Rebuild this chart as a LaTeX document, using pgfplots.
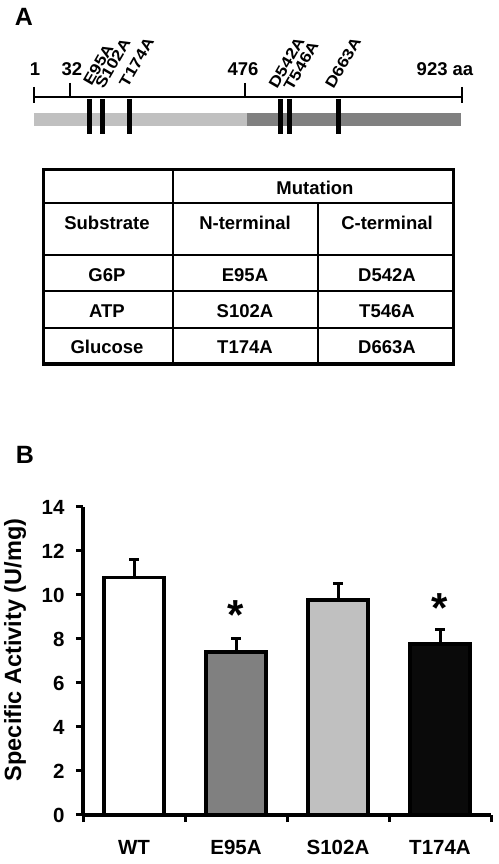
\documentclass[border=0pt]{standalone}
\usepackage{fontspec}
\setmainfont{Liberation Sans}
\usepackage{pgfplots}
\pgfplotsset{compat=1.18}
\definecolor{lgray}{HTML}{C0C0C0}
\definecolor{dgray}{HTML}{808080}
\definecolor{nblack}{HTML}{0A0A0A}
\tikzset{mut/.style={anchor=base west, rotate=60, yscale=0.85, inner sep=0pt,
    font=\fontsize{18}{20}\selectfont\bfseries}}
\begin{document}
\begin{tikzpicture}[font=\fontsize{18.5}{20}\selectfont\bfseries]
\path[use as bounding box] (0,0) rectangle (498pt,864pt);
% ---------- Panel A (pixel-coordinate overlay axis) ----------
\begin{axis}[at={(0pt,0pt)}, anchor=south west, scale only axis,
  width=498pt, height=864pt, xmin=0, xmax=498, ymin=0, ymax=864,
  y dir=reverse, hide axis, clip=false]
% domain bars
\addplot[lgray, line width=13pt, line cap=butt] coordinates {(34,119.5) (247,119.5)};
\addplot[dgray, line width=13pt, line cap=butt] coordinates {(247,119.5) (461,119.5)};
% ruler
\addplot[black, line width=2pt] coordinates {(34,97) (462,97)};
\addplot[black, line width=2pt, unbounded coords=jump] coordinates {
  (34,87) (34,103) (nan,nan) (462,87) (462,103) (nan,nan)
  (70,83) (70,97) (nan,nan) (245,83) (245,97)};
% mutation marks
\addplot[black, line width=5pt, unbounded coords=jump] coordinates {
  (89,99)(89,134)(nan,nan)(102,99)(102,134)(nan,nan)(129,99)(129,134)(nan,nan)
  (280,99)(280,134)(nan,nan)(289,99)(289,134)(nan,nan)(338,99)(338,134)};
\node[font=\fontsize{25}{27}\selectfont\bfseries] at (axis cs:24,17) {A};
\node[anchor=base] at (axis cs:35,76) {1};
\node[anchor=base] at (axis cs:72,76) {32};
\node[anchor=base] at (axis cs:243,76) {476};
\node[anchor=base] at (axis cs:445,76) {923 aa};
\node[mut] at (axis cs:91.5,87) {E95A};
\node[mut] at (axis cs:103.5,90) {S102A};
\node[mut] at (axis cs:127.5,88.5) {T174A};
\node[mut] at (axis cs:277,89.5) {D542A};
\node[mut] at (axis cs:292,92) {T546A};
\node[mut] at (axis cs:333.5,90) {D663A};
% table
\draw[line width=2.2pt] (axis cs:43.7,203) -- (axis cs:453.7,203);
\draw[line width=2.2pt] (axis cs:43.7,255) -- (axis cs:453.7,255);
\draw[line width=2.2pt] (axis cs:43.7,291) -- (axis cs:453.7,291);
\draw[line width=2.2pt] (axis cs:43.7,327.7) -- (axis cs:453.7,327.7);
\draw[line width=2.2pt] (axis cs:173.3,169.5) -- (axis cs:173.3,364);
\draw[line width=2.2pt] (axis cs:318.3,203) -- (axis cs:318.3,364);
\draw[line width=3.5pt] (axis cs:43.7,169.5) rectangle (axis cs:453.7,364);
\node[anchor=base] at (axis cs:315,194.4) {Mutation};
\node[anchor=base] at (axis cs:107,229.7) {Substrate};
\node[anchor=base] at (axis cs:245,229.7) {N-terminal};
\node[anchor=base] at (axis cs:387,229.7) {C-terminal};
\node[anchor=base] at (axis cs:107,281.4) {G6P};
\node[anchor=base] at (axis cs:245,281.4) {E95A};
\node[anchor=base] at (axis cs:387,281.4) {D542A};
\node[anchor=base] at (axis cs:107,317.4) {ATP};
\node[anchor=base] at (axis cs:245,317.4) {S102A};
\node[anchor=base] at (axis cs:387,317.4) {T546A};
\node[anchor=base] at (axis cs:107,353.4) {Glucose};
\node[anchor=base] at (axis cs:245,353.4) {T174A};
\node[anchor=base] at (axis cs:387,353.4) {D663A};
\node[font=\fontsize{25}{27}\selectfont\bfseries] at (axis cs:25,455) {B};
\end{axis}
% ---------- Panel B bar chart ----------
\begin{axis}[at={(83pt,49pt)}, anchor=south west, scale only axis,
  width=408pt, height=308pt,
  xmin=-0.5, xmax=3.5, ymin=0, ymax=14,
  axis x line*=bottom, axis y line*=left,
  axis line style={line width=3.5pt, black},
  ytick={0,2,...,14},
  xtick={-0.5,0.5,1.5,2.5,3.5},
  xticklabels={WT,E95A,S102A,T174A},
  x tick label as interval,
  tick align=outside, major tick length=7pt,
  tick style={line width=3pt, black},
  /pgf/number format/assume math mode=true,
  tick label style={font=\fontsize{20.5}{22}\selectfont\bfseries},
  yticklabel shift=8pt,
  xticklabel style={yshift=-15pt},
  ylabel={Specific Activity (U/mg)},
  ylabel style={at={(axis description cs:-0.1667,0.536)}, anchor=center,
    font=\fontsize{23.5}{25}\selectfont\bfseries},
  clip=false,
  error bars/y dir=plus, error bars/y explicit,
  error bars/error bar style={line width=3pt, black},
  error bars/error mark options={rotate=90, mark size=5pt, line width=3pt, black},
]
\addplot[ybar, bar width=60pt, fill=white, draw=black, line width=3.5pt]
  coordinates {(0,10.79) +- (0,0.83)};
\addplot[ybar, bar width=60pt, fill=dgray, draw=black, line width=3.5pt]
  coordinates {(1,7.42) +- (0,0.61)};
\addplot[ybar, bar width=60pt, fill=lgray, draw=black, line width=3.5pt]
  coordinates {(2,9.77) +- (0,0.76)};
\addplot[ybar, bar width=60pt, fill=nblack, draw=black, line width=3.5pt]
  coordinates {(3,7.77) +- (0,0.67)};
\node[anchor=base, font=\fontsize{42}{42}\selectfont\bfseries] at (axis cs:1,8.41) {*};
\node[anchor=base, font=\fontsize{42}{42}\selectfont\bfseries] at (axis cs:3,8.73) {*};
\end{axis}
\end{tikzpicture}
\end{document}
